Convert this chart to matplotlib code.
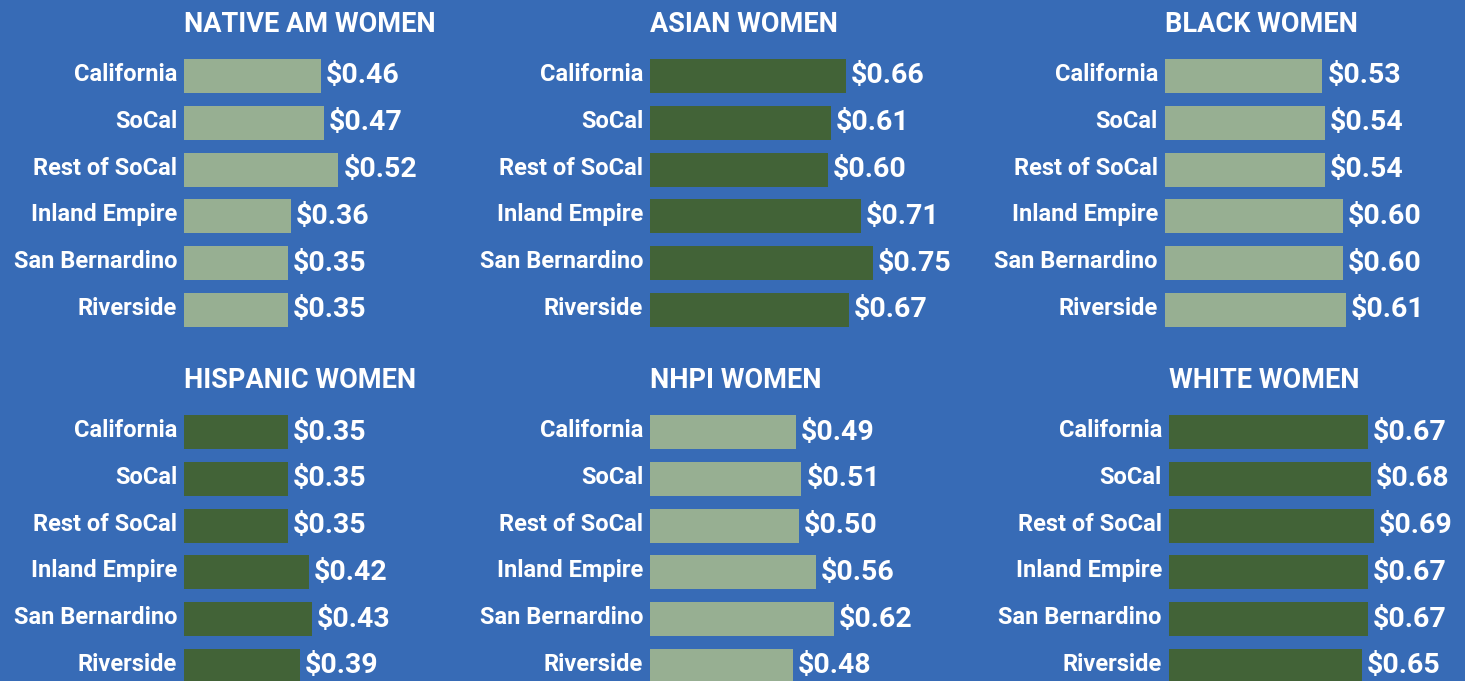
import numpy as np
import matplotlib
matplotlib.use("Agg")
import matplotlib.pyplot as plt

plt.rcParams['font.family'] = ['Roboto', 'DejaVu Sans']

regions = ["California", "SoCal", "Rest of SoCal", "Inland Empire", "San Bernardino", "Riverside"]

native = [0.46, 0.47, 0.52, 0.36, 0.35, 0.35]
asian = [0.66, 0.61, 0.60, 0.71, 0.75, 0.67]
black = [0.53, 0.54, 0.54, 0.60, 0.60, 0.61]
hispanic = [0.35, 0.35, 0.35, 0.42, 0.43, 0.39]
nhpi = [0.49, 0.51, 0.50, 0.56, 0.62, 0.48]
white = [0.67, 0.68, 0.69, 0.67, 0.67, 0.65]

titles = ["NATIVE AM WOMEN", "ASIAN WOMEN", "BLACK WOMEN",
          "HISPANIC WOMEN", "NHPI WOMEN", "WHITE WOMEN"]
series = [native, asian, black, hispanic, nhpi, white]

BG = "#376bb6"
LIGHT = "#97af92"
DARK = "#426337"
colors = [LIGHT, DARK, LIGHT, DARK, LIGHT, DARK]

W, H = 1465, 681
fig = plt.figure(figsize=(W / 100, H / 100), dpi=100)
fig.patch.set_facecolor(BG)

px_per_unit = 297.0
bar_start = [184, 650, 1165, 184, 650, 1169]
row_center0 = [76, 432]
row_title_y = [24, 381]
step = 46.8
ax_w = 300

for i in range(6):
    row = i // 3
    x0 = bar_start[i]
    top = row_center0[row] - step / 2
    bot = top + step * 6
    ax = fig.add_axes([x0 / W, 1 - bot / H, ax_w / W, (bot - top) / H])
    ax.set_facecolor("none")
    ypos = np.arange(len(regions))
    bars = ax.barh(ypos, series[i], height=34 / step, color=colors[i])
    ax.set_xlim(0, ax_w / px_per_unit)
    ax.set_ylim(5.5, -0.5)
    ax.bar_label(bars, labels=["$%.2f" % v for v in series[i]], padding=3.5,
                 color="white", fontsize=20.5, fontweight="bold")
    for y, name in zip(ypos, regions):
        ax.text(-7 / px_per_unit, y - 1.5 / step, name, color="white",
                fontsize=17, fontweight="bold", ha="right", va="center",
                clip_on=False)
    ax.set_yticks([])
    ax.set_xticks([])
    for s in ax.spines.values():
        s.set_visible(False)
    fig.text(x0 / W, 1 - row_title_y[row] / H, titles[i], color="white",
             fontsize=19.5, fontweight="bold", ha="left", va="center")

fig.savefig("out.png", dpi=100, facecolor=BG)
